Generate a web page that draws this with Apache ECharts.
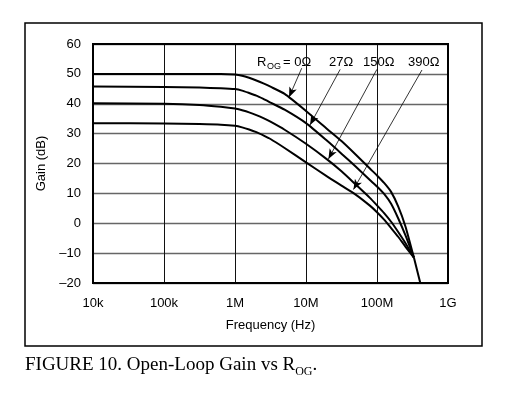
<!DOCTYPE html>
<html><head><meta charset="utf-8">
<script src="https://cdn.jsdelivr.net/npm/echarts@6/dist/echarts.min.js"></script>
<style>html,body{margin:0;padding:0;background:#fff}#c{width:516px;height:393px}</style>
</head><body><div id="c"></div>
<script>
// Data (frequency in Hz, gain in dB)
const xTicks = [1e4, 1e5, 1e6, 1e7, 1e8, 1e9];
const xTickLabels = ['10k', '100k', '1M', '10M', '100M', '1G'];
const yTicks = [-20, -10, 0, 10, 20, 30, 40, 50, 60];
const yTickLabels = ['–20', '–10', '0', '10', '20', '30', '40', '50', '60'];

const freqs   = [1e4, 1e5, 3.16e5, 6.31e5, 1e6, 1.26e6, 1.58e6, 2e6, 2.51e6, 3.16e6, 5e6, 1e7, 2e7, 3.16e7, 5e7, 7.94e7, 1e8, 1.26e8, 1.58e8, 2e8, 2.51e8, 3.31e8];
const gain0   = [50, 50, 50, 50, 49.8, 49.4, 48.7, 47.8, 46.8, 45.7, 43.3, 37.6, 31.5, 27.5, 23, 18.3, 16, 13.5, 10.5, 5.5, -1, -11.5];
const gain27  = [45.8, 45.6, 45.4, 45.2, 44.9, 44.4, 43.6, 42.7, 41.6, 40.4, 38, 33.5, 27.5, 23.3, 19, 14.5, 12.3, 9.8, 6.5, 1.5, -4, -11.5];
const gain150 = [40.2, 40, 39.6, 39, 38.4, 37.8, 37.1, 36.2, 35.2, 34, 31.3, 26.6, 21.3, 17.4, 13, 8.5, 6, 3.4, 0.5, -3, -6.6, -11.5];
const gain390 = [33.5, 33.4, 33.2, 33, 32.6, 32.1, 31.4, 30.5, 29.4, 28.2, 25.2, 20.4, 15.6, 12.6, 9.6, 5.9, 3.7, 1.2, -1.6, -4.6, -7.8, -11.5];
// common tail after the curves converge
const tailFreqs = [3.31e8, 4.07e8];
const tailGain  = [-11.5, -20];

const legendLabels = ['0Ω', '27Ω', '150Ω', '390Ω'];
// arrow annotations: [start, tip] in data coords
const arrows = [
  [[8.7e6, 51.9], [5.77e6, 42.2]],
  [[3.03e7, 51.5], [1.14e7, 32.9]],
  [[9.96e7, 51.5], [2.07e7, 21.5]],
  [[4.3e8, 51.3], [4.66e7, 11.3]]
];

const chart = echarts.init(document.getElementById('c'), null, {renderer: 'canvas'});
const font = 'Liberation Sans, Arial, sans-serif';
const serif = 'Liberation Serif, Times New Roman, serif';
function zip(xs, ys) { return xs.map((x, i) => [x, ys[i]]); }
function curve(name, data) {
  return {name, type: 'line', data, symbol: 'none', smooth: 0.2,
    lineStyle: {color: '#000', width: 2}, z: 5, animation: false};
}
const series = [
  curve('0', zip(freqs, gain0)), curve('27', zip(freqs, gain27)),
  curve('150', zip(freqs, gain150)), curve('390', zip(freqs, gain390)),
  {type: 'line', data: zip(tailFreqs, tailGain), symbol: 'none', lineStyle: {color: '#000', width: 2}, z: 5, animation: false}
];
series.push({
  type: 'line', data: [], symbol: 'none', animation: false,
  markLine: {
    silent: true, animation: false, symbol: ['none', 'arrow'], symbolSize: [6, 10],
    label: {show: false},
    lineStyle: {color: '#000', width: 0.8, type: 'solid'},
    data: arrows.map(a => [{coord: a[0]}, {coord: a[1]}])
  }
});

// measure caption pieces
const mctx = document.createElement('canvas').getContext('2d');
const capMain = 'FIGURE 10. Open-Loop Gain vs R';
mctx.font = '19px ' + serif;
const wMain = mctx.measureText(capMain).width;
mctx.font = '12px ' + serif;
const wSub = mctx.measureText('OG').width;

chart.setOption({
  animation: false,
  grid: {left: 93, right: 68, top: 44, bottom: 110, show: true, borderColor: '#000', borderWidth: 2, z: 10},
  xAxis: {
    type: 'log', logBase: 10, min: xTicks[0], max: xTicks[xTicks.length - 1],
    name: 'Frequency (Hz)', nameLocation: 'middle', nameGap: 36,
    nameTextStyle: {fontFamily: font, fontSize: 13, color: '#000'},
    axisLine: {show: false}, axisTick: {show: false},
    axisLabel: {fontFamily: font, fontSize: 13, color: '#000', margin: 14,
      formatter: v => { const i = xTicks.findIndex(t => Math.abs(Math.log10(t) - Math.log10(v)) < 1e-6); return i >= 0 ? xTickLabels[i] : ''; }},
    splitLine: {show: true, lineStyle: {color: '#111', width: 1}}
  },
  yAxis: {
    type: 'value', min: yTicks[0], max: yTicks[yTicks.length - 1], interval: 10,
    name: 'Gain (dB)', nameLocation: 'middle', nameGap: 44, nameRotate: 90,
    nameTextStyle: {fontFamily: font, fontSize: 13, color: '#000'},
    axisLine: {show: false}, axisTick: {show: false},
    axisLabel: {fontFamily: font, fontSize: 13, color: '#000', margin: 12,
      formatter: v => { const i = yTicks.indexOf(v); return i >= 0 ? yTickLabels[i] : ''; }},
    splitLine: {show: true, lineStyle: {color: '#666', width: 1.3}}
  },
  series,
  graphic: [
    {type: 'rect', shape: {x: 25, y: 23, width: 457, height: 323}, style: {fill: 'none', stroke: '#000', lineWidth: 1.5}, silent: true},
    {type: 'text', left: 257, top: 56, style: {text: 'R', font: '13px ' + font, fill: '#000'}},
    {type: 'text', left: 267, top: 62, style: {text: 'OG', font: '9px ' + font, fill: '#000'}},
    {type: 'text', left: 283, top: 56, style: {text: '= ' + legendLabels[0], font: '13px ' + font, fill: '#000'}},
    {type: 'text', left: 329, top: 56, style: {text: legendLabels[1], font: '13px ' + font, fill: '#000'}},
    {type: 'text', left: 363, top: 56, style: {text: legendLabels[2], font: '13px ' + font, fill: '#000'}},
    {type: 'text', left: 408, top: 56, style: {text: legendLabels[3], font: '13px ' + font, fill: '#000'}},
    {type: 'text', x: 25, y: 365, style: {text: capMain, font: '19px ' + serif, fill: '#000', verticalAlign: 'middle'}},
    {type: 'text', x: 25 + wMain, y: 372, style: {text: 'OG', font: '12px ' + serif, fill: '#000', verticalAlign: 'middle'}},
    {type: 'text', x: 25 + wMain + wSub, y: 365, style: {text: '.', font: '19px ' + serif, fill: '#000', verticalAlign: 'middle'}}
  ]
});
</script></body></html>
